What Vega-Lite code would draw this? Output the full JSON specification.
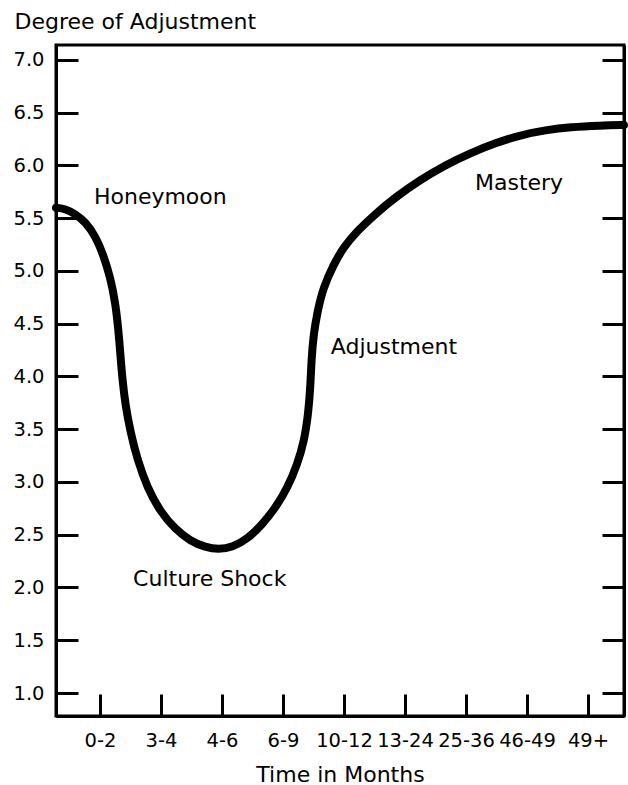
{
  "$schema": "https://vega.github.io/schema/vega-lite/v6.json",
  "width": 568,
  "height": 671,
  "autosize": {"type": "none"},
  "padding": {"left": 56, "top": 45, "right": 4, "bottom": 69},
  "background": "white",
  "config": {
    "view": {"stroke": "black", "strokeWidth": 3},
    "font": "DejaVu Sans",
    "axis": {
      "grid": false,
      "domainColor": "black",
      "domainWidth": 3,
      "tickColor": "black",
      "tickWidth": 3,
      "tickSize": -22,
      "labelColor": "black",
      "labelFontSize": 19.5,
      "labelFont": "DejaVu Sans",
      "titleColor": "black",
      "titleFont": "DejaVu Sans",
      "titleFontWeight": "normal",
      "labelOverlap": false,
      "labelBound": false,
      "labelFlush": false
    }
  },
  "layer": [
    {
      "data": {
        "values": [
          {"month": 0.28, "adj": 5.60},
          {"month": 0.434, "adj": 5.59},
          {"month": 0.598, "adj": 5.54},
          {"month": 0.762, "adj": 5.464},
          {"month": 0.926, "adj": 5.332},
          {"month": 1.057, "adj": 5.152},
          {"month": 1.172, "adj": 4.934},
          {"month": 1.254, "adj": 4.697},
          {"month": 1.303, "adj": 4.441},
          {"month": 1.336, "adj": 4.204},
          {"month": 1.369, "adj": 3.967},
          {"month": 1.418, "adj": 3.73},
          {"month": 1.5, "adj": 3.474},
          {"month": 1.615, "adj": 3.209},
          {"month": 1.779, "adj": 2.943},
          {"month": 1.992, "adj": 2.716},
          {"month": 2.238, "adj": 2.55},
          {"month": 2.484, "adj": 2.44},
          {"month": 2.73, "adj": 2.38},
          {"month": 2.943, "adj": 2.36},
          {"month": 3.172, "adj": 2.38},
          {"month": 3.418, "adj": 2.46},
          {"month": 3.664, "adj": 2.6},
          {"month": 3.877, "adj": 2.754},
          {"month": 4.074, "adj": 2.943},
          {"month": 4.238, "adj": 3.171},
          {"month": 4.352, "adj": 3.398},
          {"month": 4.418, "adj": 3.664},
          {"month": 4.451, "adj": 3.919},
          {"month": 4.467, "adj": 4.156},
          {"month": 4.5, "adj": 4.393},
          {"month": 4.566, "adj": 4.62},
          {"month": 4.664, "adj": 4.848},
          {"month": 4.828, "adj": 5.057},
          {"month": 4.992, "adj": 5.227},
          {"month": 5.238, "adj": 5.39},
          {"month": 5.484, "adj": 5.525},
          {"month": 5.844, "adj": 5.70},
          {"month": 6.254, "adj": 5.866},
          {"month": 6.664, "adj": 6.005},
          {"month": 7.074, "adj": 6.118},
          {"month": 7.484, "adj": 6.213},
          {"month": 7.893, "adj": 6.289},
          {"month": 8.303, "adj": 6.336},
          {"month": 8.713, "adj": 6.365},
          {"month": 9.205, "adj": 6.379},
          {"month": 9.59, "adj": 6.384}
        ]
      },
      "mark": {"type": "line", "interpolate": "basis", "strokeWidth": 8, "color": "black", "strokeCap": "round", "strokeJoin": "round"},
      "encoding": {
        "x": {
          "field": "month", "type": "quantitative",
          "scale": {"domain": [0.28, 9.59], "nice": false, "zero": false},
          "axis": {
            "values": [1, 2, 3, 4, 5, 6, 7, 8, 9],
            "labelExpr": "['0-2','3-4','4-6','6-9','10-12','13-24','25-36','46-49','49+'][datum.value-1]",
            "labelBaseline": "alphabetic",
            "labelPadding": 52,
            "title": "Time in Months",
            "titleFontSize": 22,
            "titleBaseline": "alphabetic",
            "titleY": 65
          }
        },
        "y": {
          "field": "adj", "type": "quantitative",
          "scale": {"domain": [0.782, 7.142], "nice": false, "zero": false},
          "axis": {
            "values": [1, 1.5, 2, 2.5, 3, 3.5, 4, 4.5, 5, 5.5, 6, 6.5, 7],
            "format": ".1f",
            "labelPadding": 34,
            "title": "Degree of Adjustment",
            "titleFontSize": 22,
            "titleAngle": 0,
            "titleAlign": "left",
            "titleBaseline": "alphabetic",
            "titleX": -42,
            "titleY": -17
          }
        }
      }
    },
    {
      "data": {
        "values": [
          {"month": 1.99, "adj": 5.70, "label": "Honeymoon"},
          {"month": 2.80, "adj": 2.08, "label": "Culture Shock"},
          {"month": 5.82, "adj": 4.28, "label": "Adjustment"},
          {"month": 7.87, "adj": 5.83, "label": "Mastery"}
        ]
      },
      "mark": {"type": "text", "fontSize": 22, "color": "black", "font": "DejaVu Sans", "align": "center", "baseline": "middle"},
      "encoding": {
        "x": {
          "field": "month", "type": "quantitative",
          "scale": {"domain": [0.28, 9.59], "nice": false, "zero": false},
          "axis": {
            "values": [1, 2, 3, 4, 5, 6, 7, 8, 9],
            "labelExpr": "['0-2','3-4','4-6','6-9','10-12','13-24','25-36','46-49','49+'][datum.value-1]",
            "labelBaseline": "alphabetic",
            "labelPadding": 52,
            "title": "Time in Months",
            "titleFontSize": 22,
            "titleBaseline": "alphabetic",
            "titleY": 65
          }
        },
        "y": {
          "field": "adj", "type": "quantitative",
          "scale": {"domain": [0.782, 7.142], "nice": false, "zero": false},
          "axis": {
            "orient": "right",
            "values": [1, 1.5, 2, 2.5, 3, 3.5, 4, 4.5, 5, 5.5, 6, 6.5, 7],
            "labels": false,
            "title": null
          }
        },
        "text": {"field": "label", "type": "nominal"}
      }
    }
  ],
  "resolve": {"axis": {"y": "independent"}}
}
